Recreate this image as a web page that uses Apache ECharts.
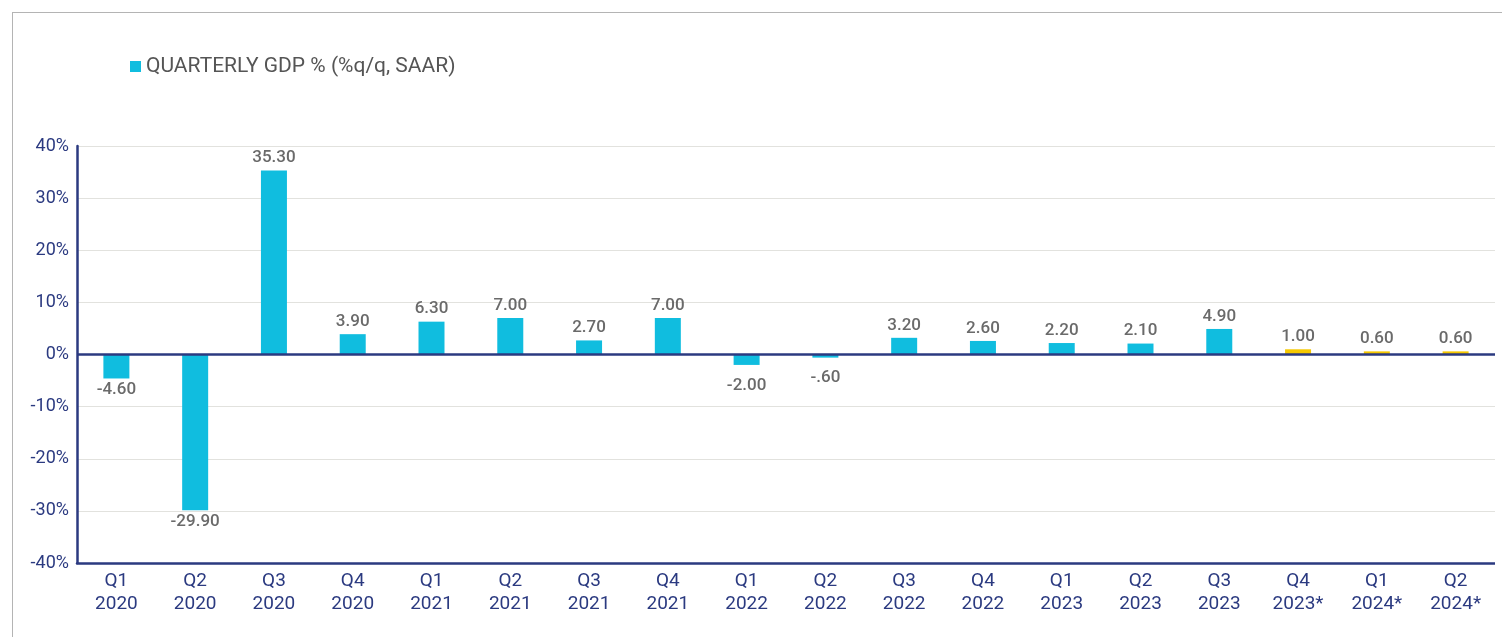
<!DOCTYPE html>
<html>
<head>
<meta charset="utf-8">
<script src="https://cdn.jsdelivr.net/npm/echarts@6/dist/echarts.min.js"></script>
<style>
  html, body { margin: 0; padding: 0; background: #fff; overflow: hidden; }
  #frame { position: absolute; left: 12px; top: 12px; width: 1600px; height: 700px;
           border-top: 1.5px solid #b4b4b4; border-left: 1.5px solid #b4b4b4; }
  #chart { position: absolute; left: 0; top: 0; width: 1495px; height: 637px; }
</style>
</head>
<body>
<div id="frame"></div>
<div id="chart"></div>
<script>
// Quarterly real GDP growth, % q/q SAAR (starred quarters are forecasts)
const quarters = ['Q1', 'Q2', 'Q3', 'Q4', 'Q1', 'Q2', 'Q3', 'Q4', 'Q1', 'Q2', 'Q3', 'Q4', 'Q1', 'Q2', 'Q3', 'Q4', 'Q1', 'Q2'];
const years = ['2020', '2020', '2020', '2020', '2021', '2021', '2021', '2021', '2022', '2022', '2022', '2022', '2023', '2023', '2023', '2023*', '2024*', '2024*'];
const gdpGrowth = [-4.6, -29.9, 35.3, 3.9, 6.3, 7.0, 2.7, 7.0, -2.0, -0.6, 3.2, 2.6, 2.2, 2.1, 4.9, 1.0, 0.6, 0.6];
const isForecast = [false, false, false, false, false, false, false, false, false, false, false, false, false, false, false, true, true, true];
const yTicks = { min: -40, max: 40, step: 10 };

const NAVY = '#2b3a80';
const CYAN = '#10bddf';
const GOLD = '#f5c800';
const FONT = 'Roboto, "Noto Sans", sans-serif';

const categories = quarters.map((q, i) => q + '\n' + years[i]);

// Two decimals; negative values below one drop the leading zero ("-.60")
function fmtValue(v) {
  let s = v.toFixed(2);
  if (s.startsWith('-0.')) s = '-' + s.slice(2);
  return s;
}

const barData = gdpGrowth.map((v, i) => ({
  value: v,
  itemStyle: { color: isForecast[i] ? GOLD : CYAN },
  label: { position: v < 0 ? 'bottom' : 'top', distance: v < 0 ? (v > -3 ? 12 : 3) : 4 }
}));

const chart = echarts.init(document.getElementById('chart'), null, { renderer: 'canvas' });
chart.setOption({
  animation: false,
  backgroundColor: 'transparent',
  textStyle: { fontFamily: FONT },
  legend: {
    left: 125, top: 51,
    itemWidth: 11, itemHeight: 11, itemGap: 9,
    icon: 'rect',
    textStyle: { color: '#555', fontSize: 21, fontFamily: FONT },
    data: [{ name: 'QUARTERLY GDP % (%q/q, SAAR)', itemStyle: { color: CYAN } }]
  },
  grid: { left: 77, top: 146, width: 1431, height: 417, containLabel: false },
  xAxis: {
    type: 'category',
    data: categories,
    boundaryGap: true,
    axisLine: { onZero: false, lineStyle: { color: NAVY, width: 2.5 } },
    axisTick: { show: false },
    axisLabel: { color: NAVY, fontSize: 19, lineHeight: 23, margin: 7, fontFamily: FONT, interval: 0 }
  },
  yAxis: {
    type: 'value',
    min: yTicks.min, max: yTicks.max, interval: yTicks.step,
    axisLine: { show: true, lineStyle: { color: NAVY, width: 2.5 } },
    axisTick: { show: false },
    axisLabel: { color: NAVY, fontSize: 18, margin: 8, fontFamily: FONT, formatter: v => v + '%' },
    splitLine: { lineStyle: { color: '#e2e2de', width: 1.2 } }
  },
  series: [{
    name: 'QUARTERLY GDP % (%q/q, SAAR)',
    type: 'bar',
    barWidth: 26,
    data: barData,
    label: {
      show: true,
      color: '#6a6a6a',
      fontSize: 17,
      fontWeight: 500,
      fontFamily: FONT,
      formatter: p => fmtValue(p.value)
    },
    markLine: {
      silent: true,
      symbol: 'none',
      label: { show: false },
      lineStyle: { color: NAVY, width: 2.5, type: 'solid' },
      data: [{ yAxis: 0 }]
    }
  }]
});
</script>
</body>
</html>
